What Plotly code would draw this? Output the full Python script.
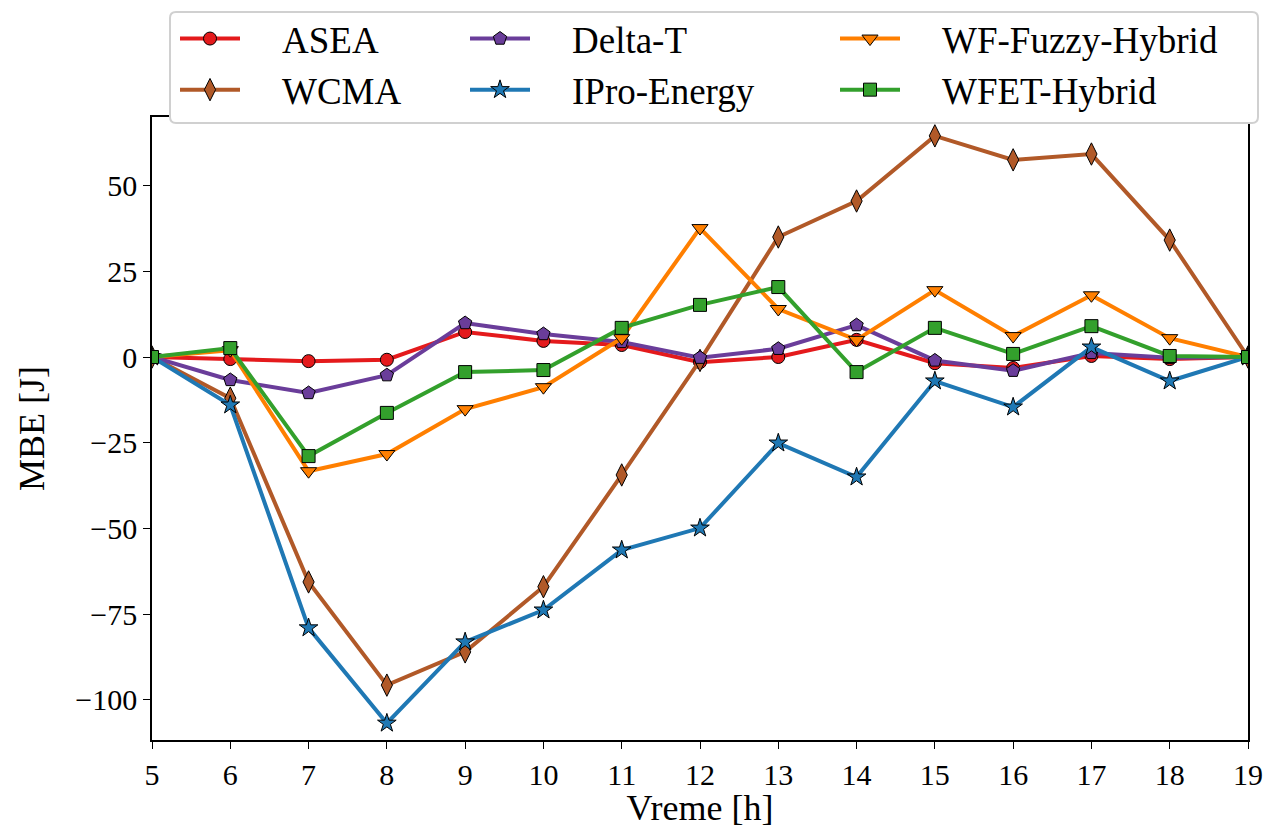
import plotly.graph_objects as go

hours = list(range(5, 20))

asea = [0, -0.6, -1.2, -0.8, 7.3, 4.7, 3.5, -1.5, 0.0, 5.0, -1.8, -3.2, 0.3, -0.6, 0]
wcma = [0, -12.0, -65.6, -95.7, -86.0, -67.0, -34.4, -1.0, 35.0, 45.5, 64.5, 57.5, 59.2, 34.1, 0]
delta_t = [0, -6.7, -10.5, -5.3, 9.9, 6.7, 4.4, -0.2, 2.4, 9.3, -1.0, -4.0, 1.2, -0.2, 0]
ipro = [0, -14.0, -79.0, -106.8, -83.1, -73.8, -56.3, -49.9, -25.1, -35.0, -7.0, -14.6, 2.9, -7.0, 0]
wf_fuzzy = [0, 2.0, -33.3, -28.3, -15.2, -8.8, 5.5, 37.6, 14.0, 5.0, 19.5, 6.1, 18.0, 5.5, 0]
wfet = [0, 2.6, -28.9, -16.3, -4.4, -3.8, 8.5, 15.2, 20.4, -4.4, 8.5, 0.9, 9.0, 0.3, 0]

y_ticks = [-100, -75, -50, -25, 0, 25, 50]
y_tick_text = ["\u2212100", "\u221275", "\u221250", "\u221225", "0", "25", "50"]

series = [
    ("ASEA", asea, "#e41a1c", "circle", 13, "legend"),
    ("WCMA", wcma, "#b15928", "diamond-tall", 16, "legend"),
    ("Delta-T", delta_t, "#6a3d9a", "pentagon", 14, "legend2"),
    ("IPro-Energy", ipro, "#1f78b4", "star", 14, "legend2"),
    ("WF-Fuzzy-Hybrid", wf_fuzzy, "#ff7f00", "triangle-down", 14, "legend3"),
    ("WFET-Hybrid", wfet, "#33a02c", "square", 13, "legend3"),
]

PAD = "\u00a0\u00a0\u00a0\u00a0"

fig = go.Figure()
for name, vals, color, sym, size, leg in series:
    fig.add_trace(go.Scatter(
        x=hours, y=vals, name=PAD + name, mode="lines+markers",
        line=dict(color=color, width=4),
        marker=dict(symbol=sym, size=size, color=color,
                    line=dict(color="black", width=1)),
        legend=leg,
    ))

font_family = "Liberation Serif, DejaVu Serif, serif"

# plot area in pixels: x 152..1248, y 117..740
PW, PH = 1096.0, 623.0
def px(x):
    return (x - 152) / PW
def py(y):
    return (740 - y) / PH

# rounded legend frame
bx0, bx1, by0, by1, r = 170, 1258, 12, 123, 6
frame = (
    f"M {px(bx0 + r)} {py(by0)} L {px(bx1 - r)} {py(by0)} "
    f"Q {px(bx1)} {py(by0)} {px(bx1)} {py(by0 + r)} "
    f"L {px(bx1)} {py(by1 - r)} "
    f"Q {px(bx1)} {py(by1)} {px(bx1 - r)} {py(by1)} "
    f"L {px(bx0 + r)} {py(by1)} "
    f"Q {px(bx0)} {py(by1)} {px(bx0)} {py(by1 - r)} "
    f"L {px(bx0)} {py(by0 + r)} "
    f"Q {px(bx0)} {py(by0)} {px(bx0 + r)} {py(by0)} Z"
)

leg_common = dict(
    orientation="v", yanchor="top", xanchor="left",
    bgcolor="rgba(0,0,0,0)", borderwidth=0,
    font=dict(size=37, family=font_family, color="black"),
    itemwidth=60, tracegroupgap=0,
)

fig.update_layout(
    width=1268, height=828,
    margin=dict(l=152, r=20, t=117, b=88, autoexpand=False),
    paper_bgcolor="white", plot_bgcolor="white",
    font=dict(family=font_family, size=30, color="black"),
    showlegend=True,
    legend=dict(x=px(175), y=py(8), **leg_common),
    legend2=dict(x=px(465), y=py(8), **leg_common),
    legend3=dict(x=px(835), y=py(8), **leg_common),
    shapes=[dict(type="path", path=frame, xref="paper", yref="paper",
                 fillcolor="white", line=dict(color="#d0d0d0", width=2),
                 layer="above")],
    xaxis=dict(
        range=[5, 19], tickmode="array", tickvals=hours,
        title=dict(text="Vreme [h]", font=dict(size=36), standoff=2),
        showline=True, linecolor="black", linewidth=1.5, mirror=True,
        ticks="outside", ticklen=7, tickcolor="black", showgrid=False,
        zeroline=False, tickfont=dict(size=30),
    ),
    yaxis=dict(
        range=[-111.7, 70], tickmode="array", tickvals=y_ticks, ticktext=y_tick_text,
        title=dict(text="MBE [J]", font=dict(size=36), standoff=20),
        showline=True, linecolor="black", linewidth=1.5, mirror=True,
        ticks="outside", ticklen=7, tickcolor="black", showgrid=False,
        zeroline=False, tickfont=dict(size=30),
    ),
)

fig.write_html(
    "out.html",
    config={"displayModeBar": False},
    post_script="document.body.style.margin='0';document.body.style.overflow='hidden';",
)
